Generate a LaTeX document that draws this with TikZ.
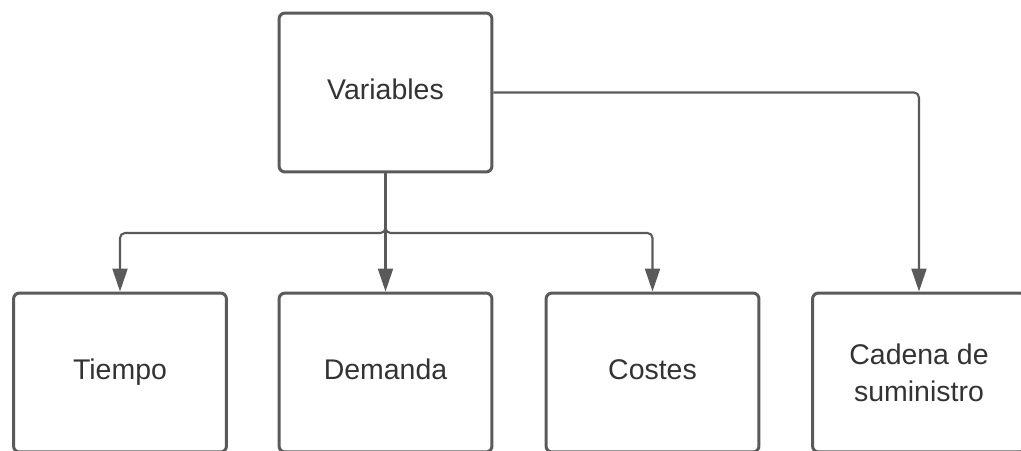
\documentclass[tikz,border=0pt]{standalone}
\usepackage{fontspec}
\setmainfont{Liberation Sans}
\usepackage{tikz}
\usetikzlibrary{arrows.meta}
\usetikzlibrary{positioning}
\definecolor{linegray}{HTML}{5A5A5A}
\definecolor{textgray}{HTML}{333333}

\begin{document}
\begin{tikzpicture}[x=0.02cm,y=-0.02cm,
    box/.style={draw=linegray,line width=1.7pt,rounded corners=0.12cm,
      minimum width=4.26cm,minimum height=3.18cm,align=center,
      text=textgray,font=\fontsize{16.2}{21}\selectfont},
    word/.style={box,text height=12pt,text depth=3.5pt},
    conn/.style={draw=linegray,line width=1.2pt,rounded corners=0.1cm,
      -{Triangle[length=0.46cm,width=0.3cm]}}]
    % Canvas
    \useasboundingbox (0,0) rectangle (1021,450);%

    % Boxes
    \node[word] (var) at (385.5,92.5) {Variables};%
    \node[word] (tie) at (120,372.5) {Tiempo};%
    \node[word] (dem) at (385.5,372.5) {Demanda};%
    \node[word] (cos) at (652.5,372.5) {Costes};%
    \node[box] (cad) at (919,372.5) {Cadena de\\suministro};%

    % Branch point
    \coordinate (split) at (385.5,233);%

    % Connectors
    \draw[conn] (var.south) -- (dem.north);%
    \draw[conn] (var.south) -- (split) -| (tie.north);%
    \draw[conn] (var.south) -- (split) -| (cos.north);%
    \draw[conn] (var.east) -| (cad.north);%
\end{tikzpicture}
\end{document}
